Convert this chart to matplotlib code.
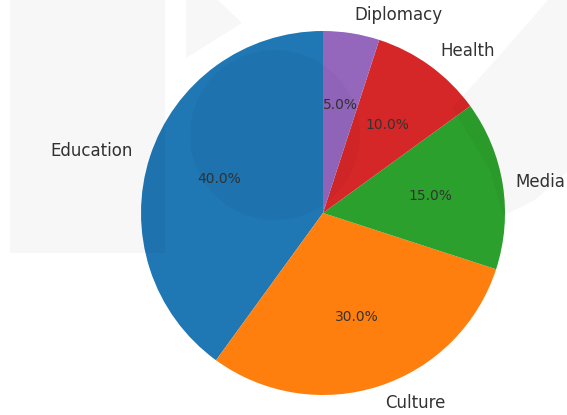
import matplotlib
matplotlib.use("Agg")
import matplotlib.pyplot as plt
from matplotlib.patches import Rectangle, Ellipse, Polygon

labels = ["Education", "Culture", "Media", "Health", "Diplomacy"]
shares = [40, 30, 15, 10, 5]
colors = ["#1f77b4", "#ff7f0e", "#2ca02c", "#d62728", "#9467bd"]

W, H = 567, 415
fig = plt.figure(figsize=(W / 100, H / 100), dpi=100)

# pie centred at (323, 213) px, radius 182 px
cx, cy, r = 323, 213, 182
ax = fig.add_axes([(cx - r) / W, (H - cy - r) / H, 2 * r / W, 2 * r / H])
wedges, texts, autotexts = ax.pie(
    shares, labels=labels, colors=colors, autopct="%1.1f%%",
    startangle=90, textprops={"color": "#333333"},
)
for t in texts:
    t.set_fontsize(12)
for t in autotexts:
    t.set_fontsize(10)
ax.set_xlim(-1, 1)
ax.set_ylim(-1, 1)

# "Media" runs past the right edge; pin it just inside the figure
media = texts[labels.index("Media")]
media.set_horizontalalignment("right")
media.set_position((2 * (565 - cx) / (2 * r), media.get_position()[1]))


# faint watermark shapes over the chart, in pixel coords (y from top)
def px(x, y):
    return (x / W, 1 - y / H)


wm = dict(facecolor="black", alpha=0.03, edgecolor="none", transform=fig.transFigure, zorder=10)
fig.patches.append(Rectangle(px(10, 253), 155 / W, 253 / H, **wm))
fig.patches.append(Ellipse(px(275, 135), 170 / W, 170 / H, **wm))
fig.patches.append(Polygon([px(*p) for p in [(186, 0), (218, 0), (242, 23), (186, 58)]], **wm))
fig.patches.append(Polygon([px(*p) for p in [(452, 108), (500, 55), (548, 0), (567, 0),
                                             (567, 172), (535, 200), (503, 216), (490, 170)]], **wm))

fig.savefig("out.png", dpi=100)
